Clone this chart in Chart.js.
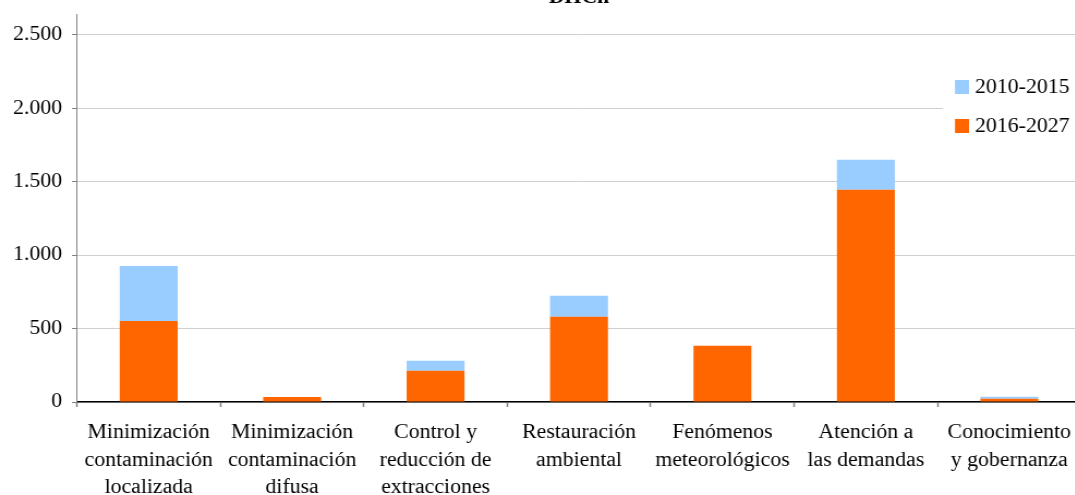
<!DOCTYPE html>
<html><head><meta charset="utf-8">
<script src="https://cdn.jsdelivr.net/npm/chart.js@4.4.1/dist/chart.umd.min.js"></script>
<style>
html,body{margin:0;padding:0;background:#fff;overflow:hidden;width:1075px;height:495px;}
</style></head><body>
<canvas id="c" width="1000" height="495" style="display:block;width:1090px;height:495px;"></canvas>
<script>
// Inversión por tipología de medida (millones de euros)
const categories = [
  ["Minimización", "contaminación", "localizada"],
  ["Minimización", "contaminación", "difusa"],
  ["Control y", "reducción de", "extracciones"],
  ["Restauración", "ambiental"],
  ["Fenómenos", "meteorológicos"],
  ["Atención a", "las demandas"],
  ["Conocimiento", "y gobernanza"]
];
const periodo2016_2027 = [552, 34, 213, 581, 383, 1446, 22];
const periodo2010_2015 = [374, 0, 68, 143, 0, 204, 14];
const yTicks = [0, 500, 1000, 1500, 2000, 2500];
const chartTitle = "DHCn";

// the drawing is laid out slightly narrower and widened by CSS (canvas 1000 -> 1090 px)
const SX = 1090 / 1000;
const FONT = "'Liberation Serif', 'Times New Roman', serif";

const fmt = v => String(v).replace(/\B(?=(\d{3})+(?!\d))/g, '.');

const titlePlugin = {
  id: 'topTitle',
  afterDraw(chart) {
    const ctx = chart.ctx;
    ctx.save();
    ctx.font = "bold 20px " + FONT;
    ctx.fillStyle = '#000';
    ctx.textAlign = 'center';
    ctx.textBaseline = 'alphabetic';
    ctx.fillText(chartTitle, 579 / SX, 3);
    ctx.restore();
  }
};

const boxLegend = {
  id: 'boxLegend',
  afterDraw(chart) {
    const ctx = chart.ctx;
    const items = chart.data.datasets.slice().reverse();
    const x0 = 943 / SX, y0 = 66;
    ctx.save();
    ctx.fillStyle = '#fff';
    ctx.fillRect(x0, y0, chart.width - x0, 82);
    ctx.font = "20px " + FONT;
    ctx.textBaseline = 'middle';
    ctx.textAlign = 'left';
    items.forEach((ds, i) => {
      const cy = 87 + i * 39;
      ctx.fillStyle = ds.backgroundColor;
      ctx.fillRect(955 / SX, cy - 7, 14 / SX, 14);
      ctx.fillStyle = '#000';
      ctx.fillText(ds.label, 975 / SX, cy + 1);
    });
    ctx.restore();
  }
};

new Chart(document.getElementById('c'), {
  type: 'bar',
  data: {
    labels: categories,
    datasets: [
      { label: '2016-2027', data: periodo2016_2027, backgroundColor: '#FF6600' },
      { label: '2010-2015', data: periodo2010_2015, backgroundColor: '#99CCFF' }
    ]
  },
  options: {
    responsive: false,
    devicePixelRatio: 1,
    animation: false,
    layout: { padding: { top: 14, right: 1000 - 1081 / SX, bottom: 0, left: 0 } },
    datasets: { bar: { barPercentage: 0.404, categoryPercentage: 1.0 } },
    plugins: { legend: { display: false }, tooltip: { enabled: false }, title: { display: false } },
    scales: {
      x: {
        stacked: true,
        border: { color: '#000', width: 1.5 },
        grid: { drawOnChartArea: false, offset: true, tickLength: 5, tickColor: '#808080', tickWidth: 1.5 },
        ticks: { color: '#000', font: { family: FONT, size: 20, lineHeight: 1.375 }, padding: 12, maxRotation: 0, autoSkip: false },
        afterFit(s) { s.height = 93; s.paddingLeft = 0; s.paddingRight = 0; }
      },
      y: {
        stacked: true,
        min: 0,
        max: 2643,
        border: { color: '#808080', width: 1 },
        grid: { color: '#D0D0D0', lineWidth: 1, tickLength: 5 / SX, tickColor: '#808080' },
        ticks: { color: '#000', font: { family: FONT, size: 20 }, padding: 9, callback: v => fmt(v) },
        afterBuildTicks(s) { s.ticks = yTicks.map(v => ({ value: v })); },
        afterFit(s) { s.width = 77 / SX; s.paddingTop = 0; s.paddingBottom = 0; }
      }
    }
  },
  plugins: [titlePlugin, boxLegend]
});
</script>
</body></html>
